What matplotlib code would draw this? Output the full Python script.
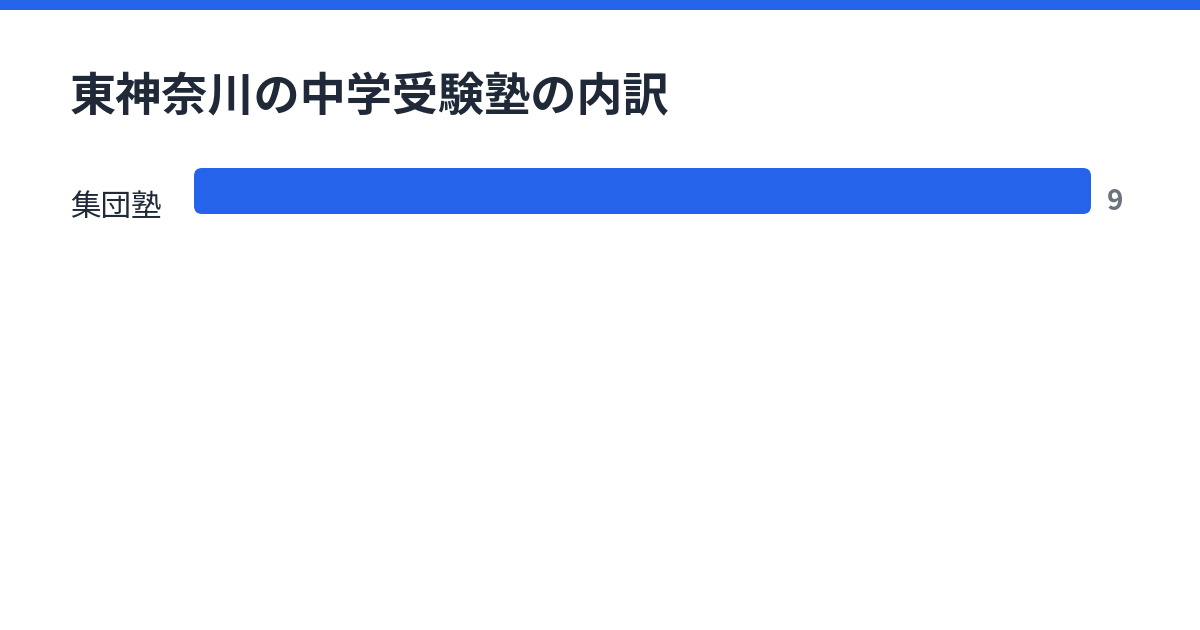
import matplotlib
matplotlib.use("Agg")
import matplotlib.pyplot as plt
from matplotlib.patches import FancyBboxPatch, Rectangle

plt.rcParams['font.family'] = ['Noto Sans CJK JP', 'DejaVu Sans']

title = "東神奈川の中学受験塾の内訳"
categories = ["集団塾"]
values = [9]

BLUE = "#2563eb"
DARK = "#1f2937"
GRAY = "#6b7280"

W, H = 1200, 630
fig = plt.figure(figsize=(W / 100, H / 100), dpi=100)
fig.patch.set_facecolor("white")

# top accent strip
fig.add_artist(Rectangle((0, 1 - 10 / H), 1, 10 / H, transform=fig.transFigure,
                         facecolor=BLUE, edgecolor="none"))

fig.text(70 / W, 1 - 97 / H, title, fontsize=33.2, fontweight="bold", color=DARK,
         ha="left", va="center")

row_h = 46
ax = fig.add_axes([194 / W, 1 - 214 / H, 897 / W, row_h / H])
ax.set_xlim(0, max(values))
ax.set_ylim(-0.5, 0.5)
ax.axis("off")

bars = ax.barh(range(len(categories)), values, height=1.0, color="none")
px_x = (max(values)) / 897.0
px_y = 1.0 / row_h
r = 8
for bar, cat, val in zip(bars, categories, values):
    x0, y0 = bar.get_x(), bar.get_y()
    w, h = bar.get_width(), bar.get_height()
    patch = FancyBboxPatch((x0, y0), w, h,
                           boxstyle=f"round,pad=0,rounding_size={r * px_x}",
                           mutation_aspect=px_y / px_x,
                           facecolor=BLUE, edgecolor="none", clip_on=False)
    ax.add_patch(patch)
    yc = y0 + h / 2
    ax.annotate(cat, xy=(0, yc), xycoords="data", xytext=(-124, -17),
                textcoords="offset pixels", ha="left", va="center",
                fontsize=22, color=DARK, annotation_clip=False)
    ax.annotate(f"{val}", xy=(x0 + w, yc), xycoords="data", xytext=(16, -11),
                textcoords="offset pixels", ha="left", va="center",
                fontsize=20, fontweight="bold", color=GRAY, annotation_clip=False)

fig.savefig("out.png", dpi=100, facecolor="white")
